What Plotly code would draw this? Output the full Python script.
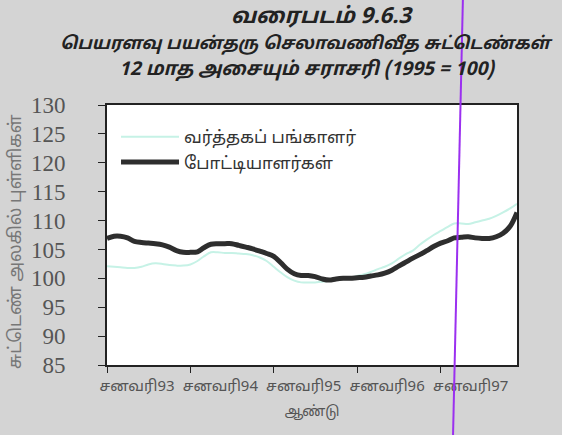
import pandas as pd
import plotly.graph_objects as go

# மாதாந்த தரவு: சனவரி 1993 - டிசம்பர் 1997
months = pd.date_range("1993-01-01", periods=60, freq="MS")

trade_partners = [
    102.1, 102.0, 101.9, 101.8, 101.8, 102.0, 102.4, 102.6, 102.5, 102.3, 102.2, 102.2,
    102.4, 103.0, 103.8, 104.5, 104.5, 104.4, 104.4, 104.3, 104.2, 104.0, 103.6, 103.0,
    102.0, 101.0, 100.2, 99.6, 99.3, 99.3, 99.3, 99.4, 99.6, 99.8, 99.9, 100.1,
    100.4, 100.7, 101.1, 101.6, 102.0, 102.6, 103.4, 104.2, 104.8, 105.8, 106.7, 107.5,
    108.2, 108.9, 109.5, 109.5, 109.4, 109.7, 110.0, 110.3, 110.8, 111.4, 112.1, 112.9,
]

competitors = [
    106.9, 107.3, 107.3, 107.0, 106.4, 106.2, 106.1, 106.0, 105.8, 105.4, 104.8, 104.5,
    104.5, 104.6, 105.3, 105.9, 106.0, 106.0, 106.0, 105.7, 105.4, 105.1, 104.7, 104.3,
    103.8, 102.7, 101.6, 100.8, 100.5, 100.5, 100.3, 99.9, 99.7, 99.9, 100.0, 100.0,
    100.1, 100.2, 100.4, 100.6, 100.9, 101.4, 102.1, 102.8, 103.5, 104.1, 104.8, 105.5,
    106.1, 106.5, 107.0, 107.1, 107.2, 107.0, 106.9, 106.9, 107.2, 107.8, 109.0, 111.4,
]

tick_dates = ["1993-01-01", "1994-01-01", "1995-01-01", "1996-01-01", "1997-01-01"]
tick_labels = ["சனவரி93", "சனவரி94", "சனவரி95", "சனவரி96", "சனவரி97"]

title_lines = [
    "வரைபடம் 9.6.3",
    "பெயரளவு பயன்தரு செலாவணிவீத சுட்டெண்கள்",
    "12 மாத அசையும் சராசரி (1995 = 100)",
]

TAMIL = "Noto Sans Tamil, Noto Sans, sans-serif"

fig = go.Figure()

fig.add_trace(go.Scatter(
    x=months, y=trade_partners,
    name="வர்த்தகப் பங்காளர்",
    mode="lines",
    line=dict(color="#c6f2e6", width=2, shape="spline"),
))

fig.add_trace(go.Scatter(
    x=months, y=competitors,
    name="போட்டியாளர்கள்",
    mode="lines",
    line=dict(color="#2e2e2e", width=5, shape="spline"),
))

fig.update_layout(
    width=562, height=435,
    margin=dict(l=107, r=45, t=105, b=70),
    paper_bgcolor="#d4d4d4",
    plot_bgcolor="white",
    font=dict(family=TAMIL, color="#444444"),
    legend=dict(
        x=0.022, y=0.945, xanchor="left", yanchor="top",
        bgcolor="rgba(0,0,0,0)",
        font=dict(size=17, color="#333333"),
        itemwidth=58,
        tracegroupgap=0,
    ),
    showlegend=True,
)

# தலைப்பு வரிகள்
for text, px_x, px_y, size in zip(title_lines, [322, 306, 307], [17, 45, 70], [22, 17.5, 19]):
    fig.add_annotation(
        text="<b><i>" + text + "</i></b>",
        xref="paper", yref="paper",
        x=(px_x - 107) / 410, y=(365 - px_y) / 260,
        xanchor="center", yanchor="middle",
        showarrow=False,
        font=dict(size=size, color="#222222"),
    )

# Y அச்சுத் தலைப்பு
fig.add_annotation(
    text="சுட்டெண் அலகில் புள்ளிகள்",
    xref="paper", yref="paper",
    x=(16 - 107) / 410, y=(365 - 242) / 260,
    xanchor="center", yanchor="middle",
    textangle=-90, showarrow=False,
    font=dict(size=17.5, color="#777777"),
)

fig.update_xaxes(
    range=["1993-01-01", "1997-12-01"],
    tickvals=tick_dates, ticktext=tick_labels,
    ticks="outside", ticklen=6, tickcolor="#222222",
    showline=True, linecolor="#222222", linewidth=2, mirror=True,
    showgrid=False, zeroline=False,
    tickfont=dict(size=15, color="#555555"),
    ticklabelshift=30, ticklabelstandoff=0,
    title=dict(text="ஆண்டு", font=dict(size=14, color="#555555"), standoff=10),
)

fig.update_yaxes(
    range=[85, 130], dtick=5,
    ticks="outside", ticklen=7, tickcolor="#222222",
    showline=True, linecolor="#222222", linewidth=2, mirror=True,
    showgrid=False, zeroline=False,
    tickfont=dict(family="Liberation Serif, serif", size=23, color="#555555"),
    ticklabelstandoff=28,
)

# ஸ்கானில் உள்ள ஊதா கோடு
fig.add_shape(
    type="line", xref="paper", yref="paper",
    x0=0.868, y0=1.404, x1=0.844, y1=-0.269,
    line=dict(color="#9b30f0", width=2),
)

fig.write_html(
    "out.html",
    config={"displayModeBar": False},
    post_script="document.body.style.margin='0';",
)
